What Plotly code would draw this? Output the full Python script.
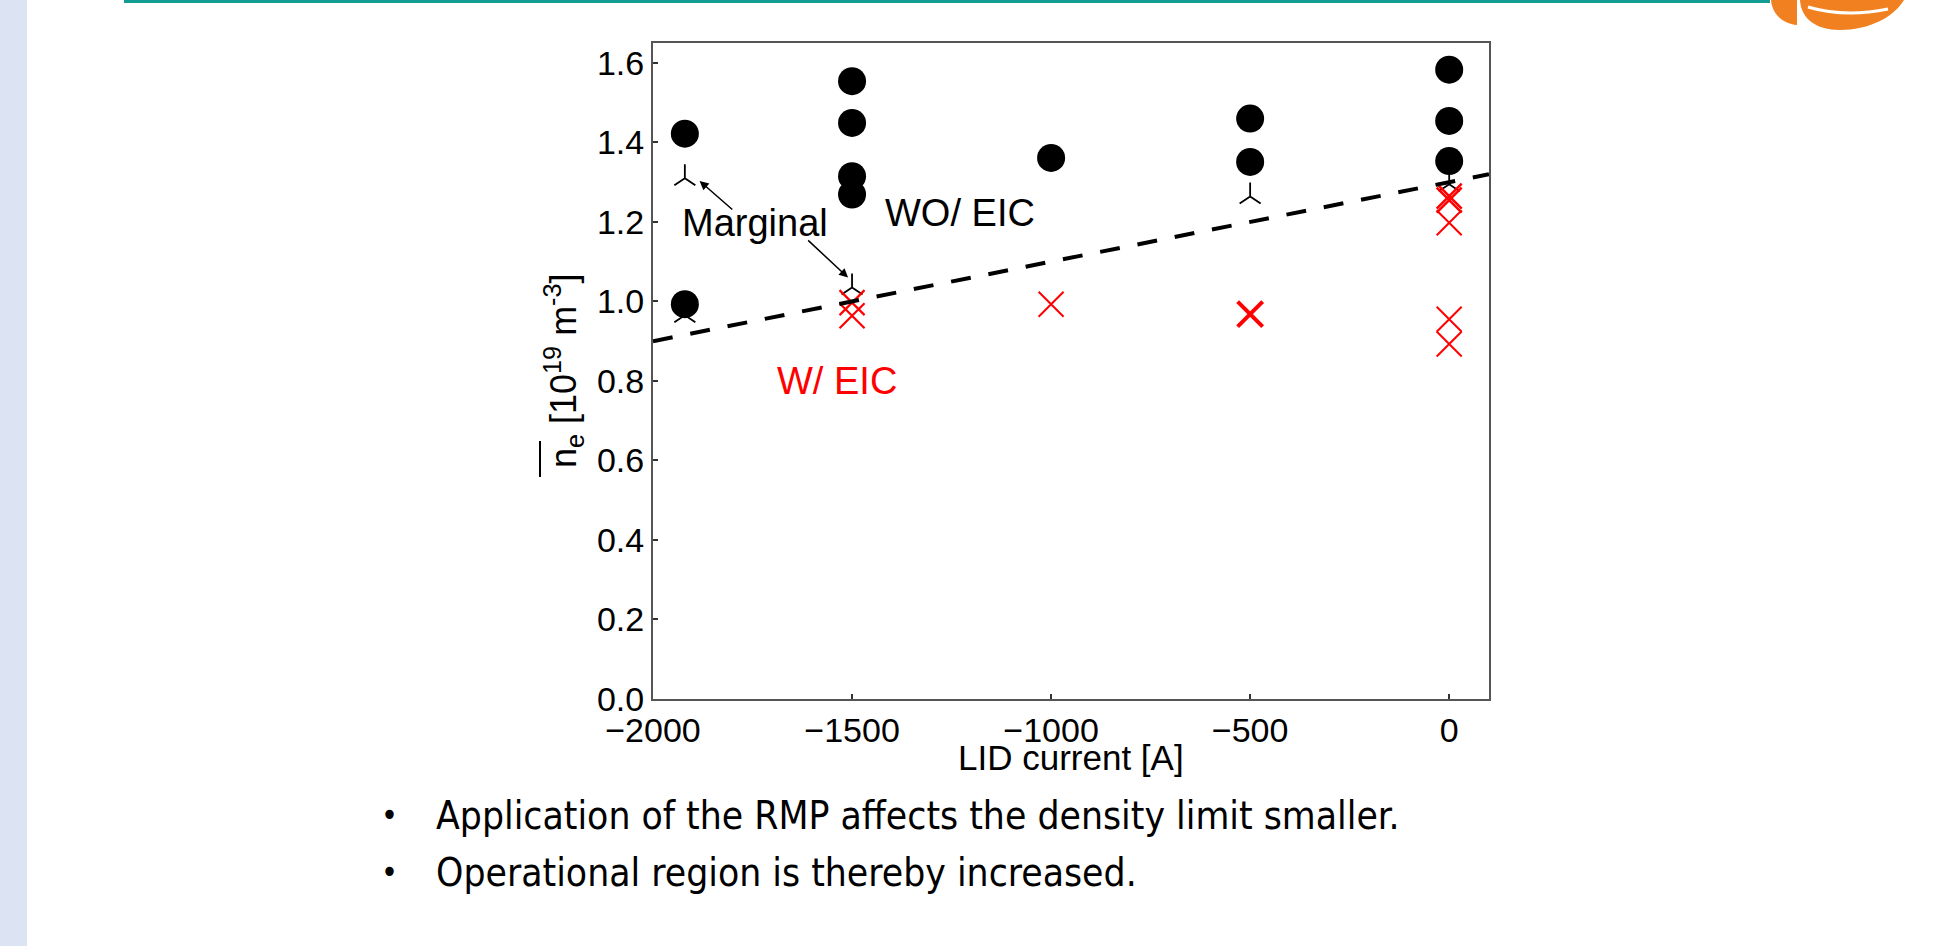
import plotly.graph_objects as go

# ---------------- data ----------------
wo_x = [-1920, -1920, -1500, -1500, -1500, -1500, -1000, -500, -500, 0, 0, 0]
wo_y = [1.422, 0.993, 1.554, 1.449, 1.315, 1.269, 1.361, 1.460, 1.351, 1.583, 1.454, 1.353]

marg_x = [-1920, -1920, -1500, -500, 0]
marg_y = [1.310, 0.965, 1.035, 1.264, 1.295]

w_x = [-1500, -1500, -1000, -500, 0, 0, 0, 0, 0]
w_y = [0.997, 0.964, 0.993, 0.968, 1.265, 1.255, 1.198, 0.955, 0.893]

limit_x = [-2000, 100]
limit_y = [0.90, 1.32]

x_ticks = [-2000, -1500, -1000, -500, 0]
y_ticks = [0.0, 0.2, 0.4, 0.6, 0.8, 1.0, 1.2, 1.4, 1.6]

bullets = ["Application of the RMP affects the density limit smaller.",
           "Operational region is thereby increased."]

# marker stroke widths for the W/ EIC crosses (the -500 A one is drawn bold)
w_stroke = [2.2, 2.2, 2, 4, 2.5, 2.5, 2, 2, 2]

# ---------------- layout geometry ----------------
W, H = 1948, 946
L, R, T, B = 653, 459, 43, 247
PW = W - L - R
PH = H - T - B


def px(xp):
    return (xp - L) / PW


def py(yp):
    return 1 - (yp - T) / PH


def path(points, close=True):
    s = ""
    for p in points:
        s += "%.5f,%.5f " % (px(p[0]), py(p[1]))
    return s + ("Z" if close else "")


FONT = "Arial, Liberation Sans, sans-serif"

fig = go.Figure()

fig.add_trace(go.Scatter(
    x=marg_x, y=marg_y, mode="markers", name="Marginal",
    marker=dict(symbol="y-up", size=17.5, color="black",
                line=dict(color="black", width=1.8)),
))
fig.add_trace(go.Scatter(
    x=wo_x, y=wo_y, mode="markers", name="WO/ EIC",
    marker=dict(symbol="circle", size=28, color="black", line=dict(width=0)),
))
fig.add_trace(go.Scatter(
    x=w_x, y=w_y, mode="markers", name="W/ EIC",
    marker=dict(symbol="x-thin", size=25, color="red",
                line=dict(color="red", width=w_stroke)),
))
fig.add_trace(go.Scatter(
    x=limit_x, y=limit_y, mode="lines", name="limit",
    line=dict(color="black", width=4, dash="20px,18px"),
))

annotations = [
    dict(x=-1744, y=1.197, xref="x", yref="y", text="Marginal", showarrow=False,
         font=dict(size=38, color="black", family=FONT), xanchor="center", yanchor="middle"),
    dict(x=-1229, y=1.222, xref="x", yref="y", text="WO/ EIC", showarrow=False,
         font=dict(size=38, color="black", family=FONT), xanchor="center", yanchor="middle"),
    dict(x=-1539, y=0.799, xref="x", yref="y", text="W/ EIC", showarrow=False,
         font=dict(size=38, color="red", family=FONT), xanchor="center", yanchor="middle"),
    dict(x=-1883, y=1.303, ax=-1797, ay=1.228, xref="x", yref="y", axref="x", ayref="y",
         text="", showarrow=True, arrowhead=2, arrowsize=1.2, arrowwidth=1.5, arrowcolor="black"),
    dict(x=-1510, y=1.060, ax=-1614, ay=1.157, xref="x", yref="y", axref="x", ayref="y",
         text="", showarrow=True, arrowhead=2, arrowsize=1.2, arrowwidth=1.5, arrowcolor="black"),
    # axis titles
    dict(x=0.5, y=py(757), xref="paper", yref="paper", text="LID current [A]", showarrow=False,
         font=dict(size=35, color="black", family=FONT), xanchor="center", yanchor="middle"),
    dict(x=px(563), y=py(371), xref="paper", yref="paper",
         text="n<sub>e</sub> [10<sup>19</sup> m<sup>-3</sup>]", showarrow=False, textangle=-90,
         font=dict(size=36, color="black", family=FONT), xanchor="center", yanchor="middle"),
]

BFONT = "DejaVu Sans Condensed, Liberation Sans Narrow, DejaVu Sans, sans-serif"
for i, t in enumerate(bullets):
    yc = py(815 + 57 * i)
    annotations.append(dict(x=px(389), y=yc, xref="paper", yref="paper", text="•",
                            showarrow=False, font=dict(size=32, color="black", family=BFONT),
                            xanchor="center", yanchor="middle"))
    annotations.append(dict(x=px(434), y=yc, xref="paper", yref="paper", text=t,
                            showarrow=False, font=dict(size=38.7, color="black", family=BFONT),
                            xanchor="left", yanchor="middle"))

shapes = [
    # slide left strip
    dict(type="rect", xref="paper", yref="paper", x0=px(0), x1=px(27), y0=py(0), y1=py(H),
         fillcolor="#dce3f2", line=dict(width=0), layer="below"),
    # slide top teal rule
    dict(type="rect", xref="paper", yref="paper", x0=px(124), x1=px(1770), y0=py(0), y1=py(3),
         fillcolor="#139c94", line=dict(width=0), layer="below"),
    # logo (approximate)
    dict(type="path", xref="paper", yref="paper",
         path="M" + path([(1771, 0)], False) + "C" + path([(1772, 14), (1783, 24), (1797, 25)], False)
              + "L" + path([(1797, 0)]),
         fillcolor="#f08020", line=dict(width=0)),
    dict(type="path", xref="paper", yref="paper",
         path="M" + path([(1800, 0)], False) + "C" + path([(1801, 18), (1815, 30), (1840, 30)], False)
              + "C" + path([(1868, 30), (1893, 18), (1904, 0)]),
         fillcolor="#f08020", line=dict(width=0)),
    dict(type="path", xref="paper", yref="paper",
         path="M" + path([(1808, 7)], False) + "Q" + path([(1845, 18), (1888, 9)], False),
         line=dict(color="white", width=3)),
    # overline of n (mean density)
    dict(type="line", xref="paper", yref="paper", x0=px(540), x1=px(540), y0=py(441), y1=py(477),
         line=dict(color="black", width=2)),
]

fig.update_layout(
    width=W, height=H,
    margin=dict(l=L, r=R, t=T, b=B),
    paper_bgcolor="white", plot_bgcolor="white",
    showlegend=False,
    font=dict(family=FONT, size=34, color="black"),
    annotations=annotations,
    shapes=shapes,
)
fig.update_xaxes(
    range=[-2000, 100], tickvals=x_ticks, ticktext=[("\u2212%d" % -v) if v < 0 else str(v) for v in x_ticks],
    ticks="inside", ticklen=5, tickwidth=1.5, tickcolor="#333",
    showline=True, linecolor="#555", linewidth=2, mirror=True,
    showgrid=False, zeroline=False, ticklabelstandoff=0,
    tickfont=dict(size=34, family=FONT, color="black"),
)
fig.update_yaxes(
    range=[0, 1.65], tickvals=y_ticks, ticktext=["%.1f" % v for v in y_ticks],
    ticks="inside", ticklen=5, tickwidth=1.5, tickcolor="#333",
    showline=True, linecolor="#555", linewidth=2, mirror=True,
    showgrid=False, zeroline=False, ticklabelstandoff=0,
    tickfont=dict(size=34, family=FONT, color="black"),
)

fig.write_html("out.html")
